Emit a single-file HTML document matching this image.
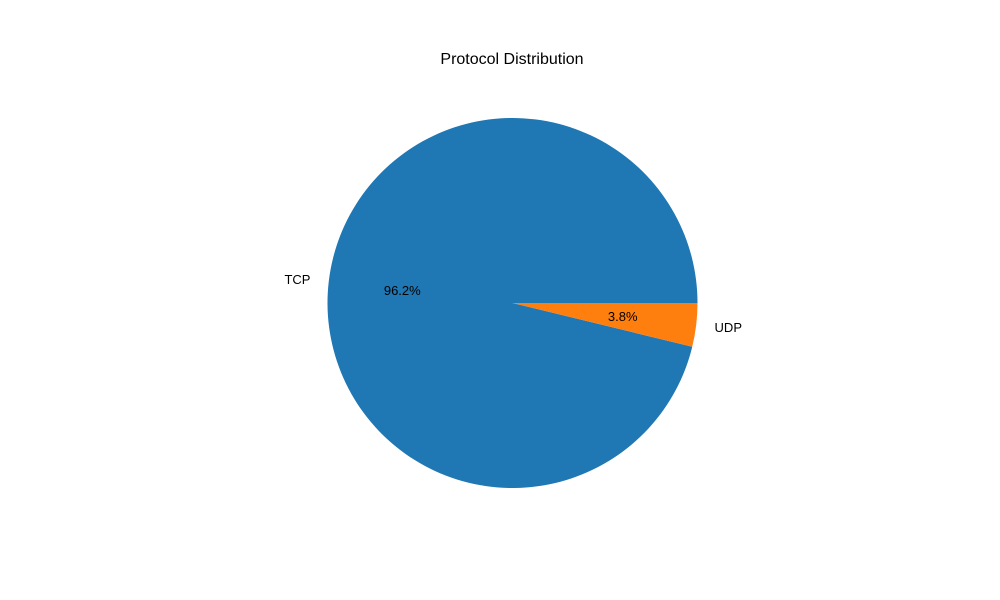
<!DOCTYPE html>
<html><head><meta charset="utf-8"><style>
body{margin:0;background:#fff;}
svg{display:block;font-family:"Liberation Sans","DejaVu Sans",sans-serif;}
</style></head><body>
<svg id="chart" width="1000" height="600">
<text x="512" y="64" text-anchor="middle" font-size="16" fill="#000">Protocol Distribution</text>
</svg>
<script>
const categories = ["TCP", "UDP"];
const values = [96.2, 3.8];
const colors = ["#1f77b4", "#ff7f0e"];
const cx = 512.5, cy = 303, r = 185;
const svg = document.getElementById('chart');
const NS = 'http://www.w3.org/2000/svg';
const total = values.reduce((a, b) => a + b, 0);
let start = 0;
function pt(angDeg, rad) {
  const a = angDeg * Math.PI / 180;
  return [cx + rad * Math.cos(a), cy - rad * Math.sin(a)];
}
values.forEach((v, i) => {
  const sweep = v / total * 360;
  const end = start + sweep;
  const [x1, y1] = pt(start, r), [x2, y2] = pt(end, r);
  const large = sweep > 180 ? 1 : 0;
  const p = document.createElementNS(NS, 'path');
  p.setAttribute('d', `M${cx},${cy} L${x1},${y1} A${r},${r} 0 ${large} 0 ${x2},${y2} Z`);
  p.setAttribute('fill', colors[i]);
  
  
  svg.appendChild(p);
  const mid = start + sweep / 2;
  const [lx, ly] = pt(mid, r * 1.1);
  const t = document.createElementNS(NS, 'text');
  t.setAttribute('x', lx);
  t.setAttribute('y', ly + 5);
  t.setAttribute('font-size', '13');
  t.setAttribute('text-anchor', Math.cos(mid * Math.PI / 180) < 0 ? 'end' : 'start');
  t.textContent = categories[i];
  
  
  svg.appendChild(t);
  const [px, py] = pt(mid, r * 0.6);
  const pc = document.createElementNS(NS, 'text');
  pc.setAttribute('x', px);
  pc.setAttribute('y', py + 5);
  pc.setAttribute('font-size', '13');
  pc.setAttribute('text-anchor', 'middle');
  pc.textContent = (v / total * 100).toFixed(1) + '%';
  
  
  svg.appendChild(pc);
  start = end;
});
</script>
</body></html>
